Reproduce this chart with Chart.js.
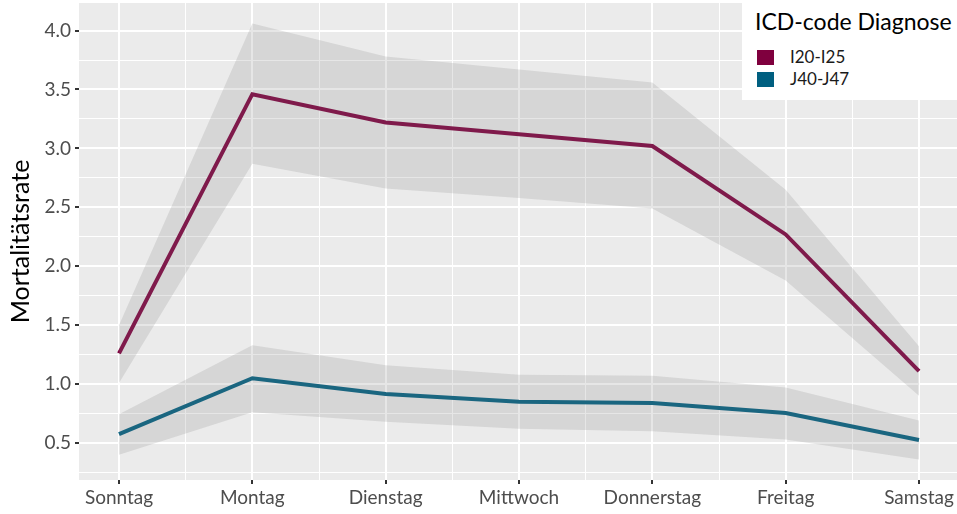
<!DOCTYPE html>
<html>
<head>
<meta charset="utf-8">
<script src="https://cdn.jsdelivr.net/npm/chart.js@4.4.0/dist/chart.umd.min.js"></script>
<style>
	html, body { margin:0; padding:0; background:#fff; overflow:hidden; }
	#wrap { position:relative; width:957px; height:514px; }
	#legende { position:absolute; left:742px; top:0; width:215px; height:100px; background:#fff; font-family:Lato, sans-serif; }
	#legende .titre { position:absolute; left:13px; top:6px; font-size:23px; line-height:30px; color:#000; white-space:nowrap; }
	#legende .item { position:absolute; left:15px; height:17px; line-height:17px; font-size:17px; color:#1a1a1a; white-space:nowrap; }
	#legende .item span { display:inline-block; width:17px; height:15px; margin-right:16px; vertical-align:-2px; }
</style>
</head>
<body>
<div id="wrap">
	<canvas id="myChart" width="957" height="514"></canvas>
	<div id="legende"></div>
</div>
<script>
// # ===============================
// # = Donnees
// # ===============================
var jours = ['Sonntag', 'Montag', 'Dienstag', 'Mittwoch', 'Donnerstag', 'Freitag', 'Samstag'];
var series = ['I20-I25', 'J40-J47'];
var couleurs = ['#7F003E', '#005F80'];

var i20 = [1.26, 3.46, 3.22, 3.12, 3.02, 2.27, 1.11];
var i20Bas = [1.01, 2.87, 2.66, 2.58, 2.49, 1.88, 0.90];
var i20Haut = [1.50, 4.06, 3.78, 3.67, 3.56, 2.65, 1.32];

var j40 = [0.575, 1.05, 0.915, 0.85, 0.84, 0.755, 0.525];
var j40Bas = [0.40, 0.76, 0.68, 0.62, 0.60, 0.53, 0.36];
var j40Haut = [0.745, 1.33, 1.16, 1.08, 1.07, 0.97, 0.69];

function pts(arr) {
	return arr.map(function(v, i) { return { x: i + 1, y: v }; });
}

var bande = 'rgba(128,128,128,0.2)';

// fond gris du panneau
var fondPanneau = {
	id: 'fondPanneau',
	beforeDraw: function(chart) {
		var a = chart.chartArea;
		chart.ctx.save();
		chart.ctx.fillStyle = '#EBEBEB';
		chart.ctx.fillRect(a.left, a.top, a.right - a.left, a.bottom - a.top);
		chart.ctx.restore();
	}
};

function estMajeur(v) { return Math.abs(v - Math.round(v)) < 1e-9; }
function estMajeurY(v) { return Math.abs(v * 2 - Math.round(v * 2)) < 1e-9; }

function sansMarge(scale) {
	scale.paddingTop = 0;
	scale.paddingBottom = 0;
	scale.paddingLeft = 0;
	scale.paddingRight = 0;
}

const ctx = document.getElementById('myChart');
new Chart(ctx, {
	type: 'line',
	data: {
		datasets: [
			{ label: 'i20haut', data: pts(i20Haut), borderWidth: 0, pointRadius: 0, fill: '+1', backgroundColor: bande },
			{ label: 'i20bas', data: pts(i20Bas), borderWidth: 0, pointRadius: 0, fill: false },
			{ label: 'j40haut', data: pts(j40Haut), borderWidth: 0, pointRadius: 0, fill: '+1', backgroundColor: bande },
			{ label: 'j40bas', data: pts(j40Bas), borderWidth: 0, pointRadius: 0, fill: false },
			{ label: series[0], data: pts(i20), borderColor: couleurs[0], borderWidth: 4, pointRadius: 0, fill: false },
			{ label: series[1], data: pts(j40), borderColor: couleurs[1], borderWidth: 4, pointRadius: 0, fill: false }
		]
	},
	options: {
		responsive: false,
		animation: false,
		layout: { padding: { top: 3, left: 0, right: 0, bottom: 0 } },
		plugins: { legend: { display: false }, tooltip: { enabled: false } },
		elements: { line: { tension: 0 } },
		scales: {
			x: {
				type: 'linear',
				min: 0.7,
				max: 7.285,
				afterBuildTicks: function(scale) {
					var t = [];
					for (var v = 1; v <= 7.001; v += 0.5) t.push({ value: v });
					scale.ticks = t;
				},
				afterFit: function(scale) { scale.height = 34; sansMarge(scale); },
				border: { display: false },
				grid: {
					color: '#ffffff',
					lineWidth: function(c) { return estMajeur(c.tick.value) ? 2 : 1; },
					tickColor: function(c) { return estMajeur(c.tick.value) ? '#333333' : 'rgba(0,0,0,0)'; },
					tickWidth: 2,
					tickLength: 4
				},
				ticks: {
					autoSkip: false,
					maxRotation: 0,
					padding: 2,
					color: '#4D4D4D',
					font: { family: 'Lato', size: 19 },
					callback: function(v) { return estMajeur(v) ? jours[Math.round(v) - 1] : ''; }
				}
			},
			y: {
				min: 0.186,
				max: 4.234,
				afterBuildTicks: function(scale) {
					var t = [];
					for (var v = 0.25; v <= 4.001; v += 0.25) t.push({ value: v });
					scale.ticks = t;
				},
				afterFit: function(scale) { scale.width = 79; sansMarge(scale); },
				border: { display: false },
				title: {
					display: true,
					text: 'Mortalitätsrate',
					color: '#000000',
					font: { family: 'Lato', size: 25 },
					padding: { top: 6, bottom: 0 }
				},
				grid: {
					color: '#ffffff',
					lineWidth: function(c) { return estMajeurY(c.tick.value) ? 2 : 1; },
					tickColor: function(c) { return estMajeurY(c.tick.value) ? '#333333' : 'rgba(0,0,0,0)'; },
					tickWidth: 2,
					tickLength: 4
				},
				ticks: {
					autoSkip: false,
					padding: 4,
					color: '#4D4D4D',
					font: { family: 'Lato', size: 19 },
					callback: function(v) { return estMajeurY(v) ? v.toFixed(1) : ''; }
				}
			}
		}
	},
	plugins: [fondPanneau]
});

// # ===============================
// # = Legende
// # ===============================
var html = '<div class="titre">ICD-code Diagnose</div>';
series.forEach(function(s, i) {
	html += '<div class="item" style="top:' + (48 + i * 22) + 'px"><span style="background:' + couleurs[i] + '"></span>' + s + '</div>';
});
document.getElementById('legende').innerHTML = html;
</script>
</body>
</html>
